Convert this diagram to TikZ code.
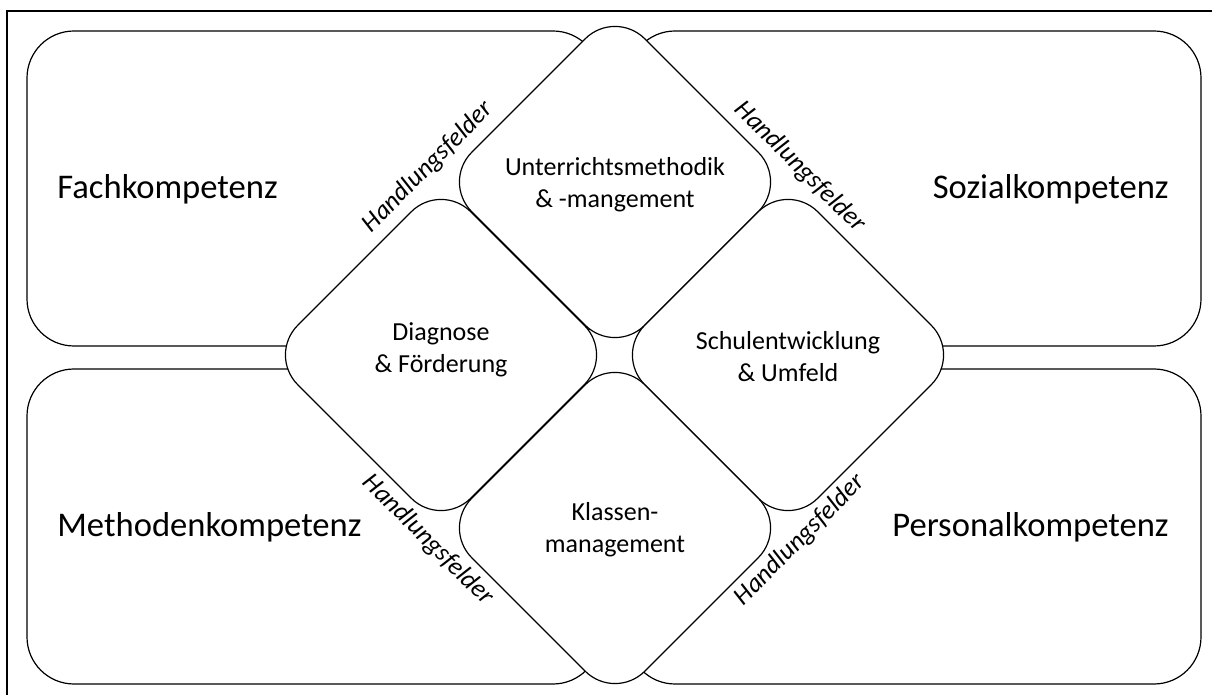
\documentclass[tikz,border=0pt]{standalone}
\usepackage{fontspec}
\setmainfont{Carlito}
\begin{document}
\begin{tikzpicture}[x=0.5pt,y=-0.5pt,
  frame/.style={line width=0.8pt},
  quad/.style={draw, line width=0.6pt, rounded corners=23.5pt,
    minimum width=286.5pt, minimum height=157.5pt, inner sep=0pt},
  diam/.style={draw, fill=white, line width=0.6pt, rotate=45,
    minimum size=122.3pt, inner sep=0pt, rounded corners=21pt},
  big/.style={font=\fontsize{17.3pt}{20pt}\selectfont, inner sep=0pt},
  field/.style={font=\fontsize{13pt}{16pt}\selectfont, align=center, inner sep=0pt},
  hf/.style={font=\fontsize{13pt}{16pt}\selectfont\itshape, inner sep=0pt}]
\useasboundingbox (0,0) rectangle (1212,695);
% outer frame (left and top edges)
\draw[frame] (7,695) -- (7,11) -- (1212,11);

% four competence areas
\node[quad] (fach)  at (313.5,188.5) {};
\node[quad] (sozial) at (914.5,188.5) {};
\node[quad] (methode) at (313.5,526.5) {};
\node[quad] (person) at (914.5,526.5) {};

\node[big, anchor=base west] (tfach) at (57,199) {Fachkompetenz};
\node[big, anchor=base east] (tsozial) at (1169,199) {Sozialkompetenz};
\node[big, anchor=base west] (tmethode) at (57,537) {Methodenkompetenz};
\node[big, anchor=base east] (tperson) at (1169,537) {Personalkompetenz};

% fields of action as rounded diamonds
\node[diam] (unt) at (615,182) {};
\node[diam] (dia) at (441,355) {};
\node[diam] (sch) at (788,355) {};
\node[diam] (kla) at (615,528) {};

\node[field] (tunt) at (615,185) {Unterrichtsmethodik\\\& -mangement};
\node[field] (tdia) at (441,350) {Diagnose\\\& Förderung};
\node[field] (tsch) at (788,357) {Schulentwicklung\\\& Umfeld};
\node[field] (tkla) at (615,530) {Klassen-\\management};

% labels along the diamond edges
\node[hf, rotate=45]  (hf1) at (428,167) {Handlungsfelder};
\node[hf, rotate=-45] (hf2) at (800,167) {Handlungsfelder};
\node[hf, rotate=-45] (hf3) at (428,540) {Handlungsfelder};
\node[hf, rotate=45]  (hf4) at (800,540) {Handlungsfelder};
\end{tikzpicture}
\end{document}
